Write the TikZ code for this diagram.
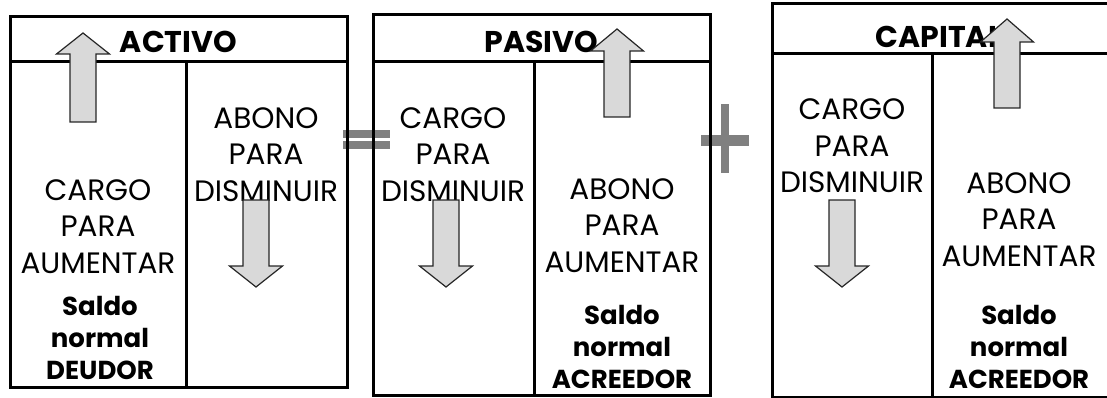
\documentclass[tikz,border=0pt]{standalone}
\usepackage{fontspec}
\setmainfont{Poppins}

\definecolor{grissigno}{HTML}{808080}
\definecolor{grisflecha}{HTML}{D9D9D9}

\tikzset{
	cuenta/.style={line width=3pt, black},
	flecha/.style={draw=black!85, fill=grisflecha, line width=1.2pt, line join=miter},
	signo/.style={fill=grissigno, draw=none},
	rotulo/.style={font=\fontsize{29.5}{36.5}\selectfont, align=center, anchor=base, inner sep=0pt},
	saldo/.style={font=\bfseries\fontsize{26}{32}\selectfont, align=center, anchor=base, inner sep=0pt},
	titulo/.style={font=\bfseries\fontsize{30}{32}\selectfont, anchor=base, inner sep=0pt},
}

\begin{document}
\begin{tikzpicture}[x=1pt, y=-1pt]
		\clip (0,0) rectangle (1107,398);
		
		% signos = y +
		\fill[signo] (343,130) rectangle (390,138);
		\fill[signo] (343,141) rectangle (390,149);
		\fill[signo] (721,104) rectangle (729,173);
		\fill[signo] (701,135) rectangle (749,146);
		
		% ACTIVO
		\draw[cuenta] (10,17) rectangle (347,387);
		\draw[cuenta] (10,62) -- (347,62);
		\draw[cuenta] (186,62) -- (186,387);
		\node[titulo] (activo) at (178.5,53) {ACTIVO};
		\node[rotulo] (cargoA) at (98,273) {CARGO\\PARA\\AUMENTAR};
		\node[saldo] (saldoA) at (100,379) {Saldo\\normal\\DEUDOR};
		\node[rotulo] (abonoA) at (266,201) {ABONO\\PARA\\DISMINUIR};
		
		% PASIVO
		\draw[cuenta] (373,15) rectangle (710,395);
		\draw[cuenta] (373,62) -- (710,62);
		\draw[cuenta] (534,62) -- (534,395);
		\node[titulo] (pasivo) at (541.5,53) {PASIVO};
		\node[rotulo] (cargoP) at (453,201) {CARGO\\PARA\\DISMINUIR};
		\node[rotulo] (abonoP) at (622,272) {ABONO\\PARA\\AUMENTAR};
		\node[saldo] (saldoP) at (622,388) {Saldo\\normal\\ACREEDOR};
		
		% CAPITAL
		\draw[cuenta] (772,4) rectangle (1110,397);
		\draw[cuenta] (772,54) -- (1110,54);
		\draw[cuenta] (932,54) -- (932,397);
		\node[titulo] (capital) at (939,48) {CAPITAL};
		\node[rotulo] (cargoC) at (852,193) {CARGO\\PARA\\DISMINUIR};
		\node[rotulo] (abonoC) at (1019,266) {ABONO\\PARA\\AUMENTAR};
		\node[saldo] (saldoC) at (1019,388) {Saldo\\normal\\ACREEDOR};
		
		% flechas
		\draw[flecha] (70,122) -- (70,54) -- (56.5,54) -- (83,33) -- (109.5,54) -- (96,54) -- (96,122) -- cycle;
		\draw[flecha] (243,200) -- (243,266) -- (229.5,266) -- (256,287) -- (282.5,266) -- (269,266) -- (269,200) -- cycle;
		\draw[flecha] (433,200) -- (433,266) -- (419.5,266) -- (446,287) -- (472.5,266) -- (459,266) -- (459,200) -- cycle;
		\draw[flecha] (604,117) -- (604,51) -- (590.5,51) -- (617,29) -- (643.5,51) -- (630,51) -- (630,117) -- cycle;
		\draw[flecha] (829,200) -- (829,266) -- (815.5,266) -- (842,287) -- (868.5,266) -- (855,266) -- (855,200) -- cycle;
		\draw[flecha] (994,108) -- (994,42) -- (980.5,42) -- (1007,19) -- (1033.5,42) -- (1020,42) -- (1020,108) -- cycle;
\end{tikzpicture}
\end{document}
